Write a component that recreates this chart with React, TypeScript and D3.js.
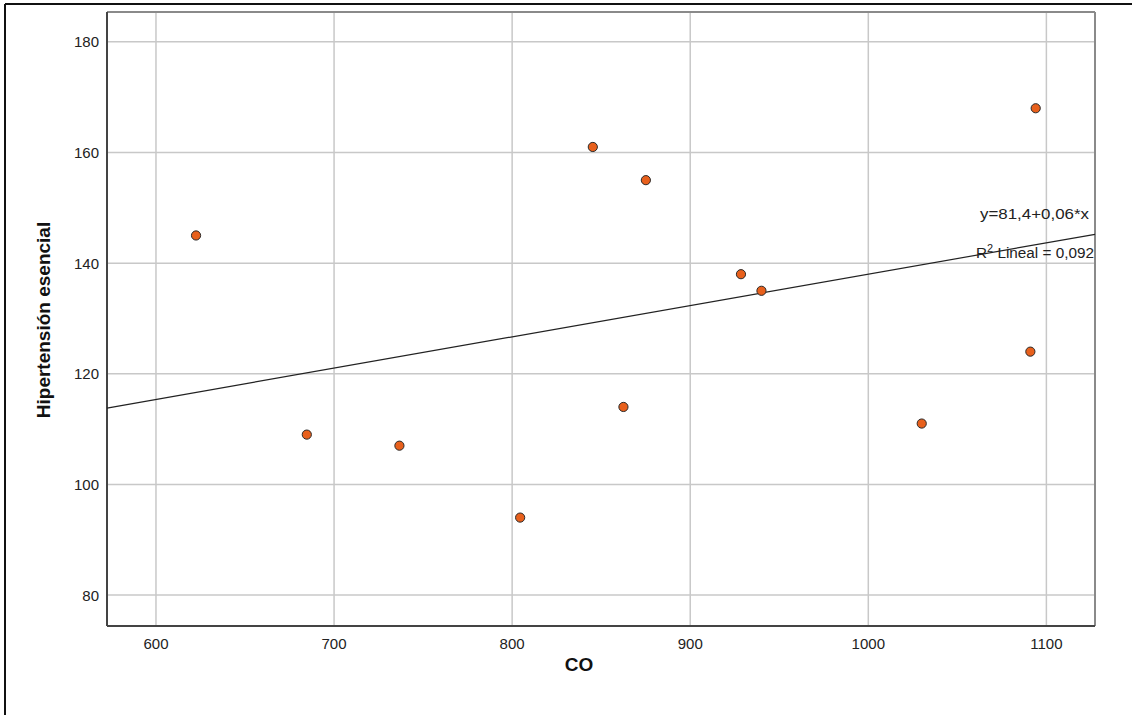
import * as d3 from "d3";

// CO values and their essential hypertension values
const CO = [622.5, 684.7, 736.7, 804.5, 845.3, 862.5, 875.1, 928.5, 940, 1030, 1091, 1094];
const HIPERTENSION = [145, 109, 107, 94, 161, 114, 155, 138, 135, 111, 124, 168];

const X_TICKS = [600, 700, 800, 900, 1000, 1100];
const Y_TICKS = [80, 100, 120, 140, 160, 180];

// fitted line (label rounds the slope)
const FIT_INTERCEPT = 81.4;
const FIT_SLOPE = 0.0566;
const FIT_LABEL = "y=81,4+0,06*x";

const W = 1132;
const H = 715;
const left = 107;
const right = 1095;
const top = 12;
const bottom = 626;

export default function App() {
  const x = d3.scaleLinear().domain([572.5, 1127.3]).range([left, right]);
  const y = d3.scaleLinear().domain([74.4, 185.4]).range([bottom, top]);

  const [x0, x1] = x.domain();
  const fitLine = d3
    .line<number>()
    .x((d) => x(d))
    .y((d) => y(FIT_INTERCEPT + FIT_SLOPE * d));

  const font = "'Liberation Sans', Arial, sans-serif";

  return (
    <div style={{ position: "fixed", left: 0, top: 0 }}>
      <svg width={W} height={H} style={{ display: "block", background: "#fff" }} fontFamily={font}>
        {/* outer frame */}
        <line x1={5} y1={4} x2={W} y2={4} stroke="#111" strokeWidth={2} />
        <line x1={5} y1={4} x2={5} y2={H} stroke="#111" strokeWidth={2} />

        {/* grid */}
        {X_TICKS.map((t) => (
          <line key={`gx${t}`} x1={x(t)} x2={x(t)} y1={top} y2={bottom} stroke="#c8c8c8" strokeWidth={1.5} />
        ))}
        {Y_TICKS.map((t) => (
          <line key={`gy${t}`} x1={left} x2={right} y1={y(t)} y2={y(t)} stroke="#c8c8c8" strokeWidth={1.5} />
        ))}

        {/* plot frame */}
        <line x1={left} x2={right} y1={top} y2={top} stroke="#8a8a8a" strokeWidth={2} />
        <line x1={right} x2={right} y1={top} y2={bottom} stroke="#8a8a8a" strokeWidth={2} />
        <line x1={left} x2={left} y1={top} y2={bottom} stroke="#444" strokeWidth={2} />
        <line x1={left} x2={right} y1={bottom} y2={bottom} stroke="#444" strokeWidth={2} />

        {/* tick labels */}
        {X_TICKS.map((t) => (
          <text key={`tx${t}`} x={x(t)} y={649} textAnchor="middle" fontSize={15} fill="#222">
            {t}
          </text>
        ))}
        {Y_TICKS.map((t) => (
          <text key={`ty${t}`} x={99} y={y(t) + 5.5} textAnchor="end" fontSize={15} fill="#222">
            {t}
          </text>
        ))}

        {/* fit line */}
        <path d={fitLine([x0, x1]) ?? ""} fill="none" stroke="#222" strokeWidth={1.2} />

        {/* points */}
        {CO.map((c, i) => (
          <circle key={i} cx={x(c)} cy={y(HIPERTENSION[i])} r={4.6} fill="#e8601c" stroke="#2a2a2a" strokeWidth={1} />
        ))}

        {/* fit labels */}
        <text x={1089} y={219} textAnchor="end" fontSize={14} fill="#222" textLength={109} lengthAdjust="spacingAndGlyphs">
          {FIT_LABEL}
        </text>
        <text x={976} y={258} fontSize={14} fill="#222" textLength={118} lengthAdjust="spacingAndGlyphs">
          R<tspan dy={-6} fontSize={10}>2</tspan>
          <tspan dy={6}> Lineal = 0,092</tspan>
        </text>

        {/* axis titles */}
        <text x={579} y={671} textAnchor="middle" fontSize={19} fontWeight="bold" fill="#111">
          CO
        </text>
        <text
          transform={`translate(50, 320) rotate(-90)`}
          textAnchor="middle"
          fontSize={19}
          fontWeight="bold"
          fill="#111"
        >
          Hipertensión esencial
        </text>
      </svg>
    </div>
  );
}
